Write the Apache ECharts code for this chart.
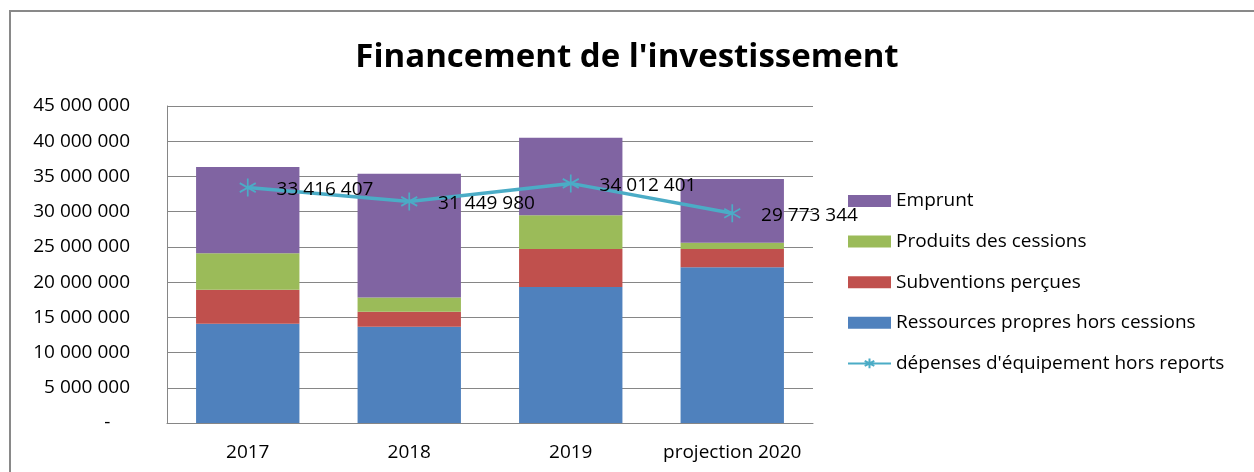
<!DOCTYPE html>
<html>
<head>
<meta charset="utf-8">
<script src="https://cdn.jsdelivr.net/npm/echarts@6/dist/echarts.min.js"></script>
<style>
html,body{margin:0;padding:0;background:#fff;}
#chart{width:1254px;height:472px;}
</style>
</head>
<body>
<div id="chart"></div>
<script>
const categories = ['2017', '2018', '2019', 'projection 2020'];
const ressources = [14100000, 13650000, 19300000, 22100000];
const subventions = [4800000, 2150000, 5400000, 2600000];
const cessions = [5200000, 2000000, 4800000, 900000];
const emprunt = [12250000, 17600000, 11000000, 9050000];
const depenses = [33416407, 31449980, 34012401, 29773344];
const seriesNames = ['Ressources propres hors cessions', 'Subventions perçues', 'Produits des cessions', 'Emprunt', "dépenses d'équipement hors reports"];
const yTicks = {min: 0, max: 45000000, interval: 5000000};

const FONT = '"Open Sans", sans-serif';
function fmt(v) {
  return String(Math.round(v)).replace(/\B(?=(\d{3})+(?!\d))/g, ' ');
}
const chart = echarts.init(document.getElementById('chart'), null, {renderer: 'canvas'});
const barColors = ['#4F81BD', '#C0504D', '#9BBB59', '#8064A2'];
const barData = [ressources, subventions, cessions, emprunt];
const series = barData.map((d, i) => ({
  name: seriesNames[i],
  type: 'bar',
  stack: 'total',
  barWidth: '64%',
  data: d,
  itemStyle: {color: barColors[i]},
  emphasis: {disabled: true}
}));
series.push({
  name: seriesNames[4],
  type: 'line',
  data: depenses,
  symbol: 'path://M0,-10L0,10M-8.66,-5L8.66,5M-8.66,5L8.66,-5',
  symbolSize: [16, 18],
  itemStyle: {color: 'rgba(0,0,0,0)', borderColor: '#4BACC6', borderWidth: 1.8},
  lineStyle: {color: '#4BACC6', width: 3.5},
  label: {
    show: true, position: 'right', distance: 20, color: '#000',
    fontFamily: FONT, fontSize: 19, offset: [0, 2],
    formatter: p => fmt(p.value)
  },
  emphasis: {disabled: true},
  z: 5
});
chart.setOption({
  backgroundColor: '#fff',
  animation: false,
  title: {
    text: "Financement de l'investissement",
    left: 'center', top: 36,
    textStyle: {fontFamily: FONT, fontWeight: 'bold', fontSize: 33, color: '#000'}
  },
  graphic: [{
    type: 'rect', shape: {x: 10, y: 11, width: 1400, height: 700},
    style: {fill: 'none', stroke: '#898989', lineWidth: 2}, silent: true
  }],
  grid: {left: 167, right: 441, top: 106, bottom: 49, containLabel: false},
  legend: {
    orient: 'vertical', left: 847, top: 191, padding: 0,
    itemWidth: 43, itemHeight: 12, itemGap: 20.6,
    data: [
      {name: seriesNames[3], icon: 'rect'},
      {name: seriesNames[2], icon: 'rect'},
      {name: seriesNames[1], icon: 'rect'},
      {name: seriesNames[0], icon: 'rect'},
      {name: seriesNames[4]}
    ],
    textStyle: {fontFamily: FONT, fontSize: 19, color: '#000', lineHeight: 20},
    selectedMode: false
  },
  xAxis: {
    type: 'category', data: categories,
    axisLine: {lineStyle: {color: '#868686', width: 1}},
    axisTick: {show: false},
    axisLabel: {fontFamily: FONT, fontSize: 19, color: '#000', margin: 20, interval: 0}
  },
  yAxis: {
    type: 'value', min: yTicks.min, max: yTicks.max, interval: yTicks.interval,
    axisLine: {show: true, lineStyle: {color: '#868686', width: 1}},
    axisTick: {show: false},
    splitLine: {lineStyle: {color: '#868686', width: 1}},
    axisLabel: {
      fontFamily: FONT, fontSize: 19, color: '#000', margin: 37,
      formatter: v => v === 0 ? '-    ' : fmt(v)
    }
  },
  series: series
});
</script>
</body>
</html>
